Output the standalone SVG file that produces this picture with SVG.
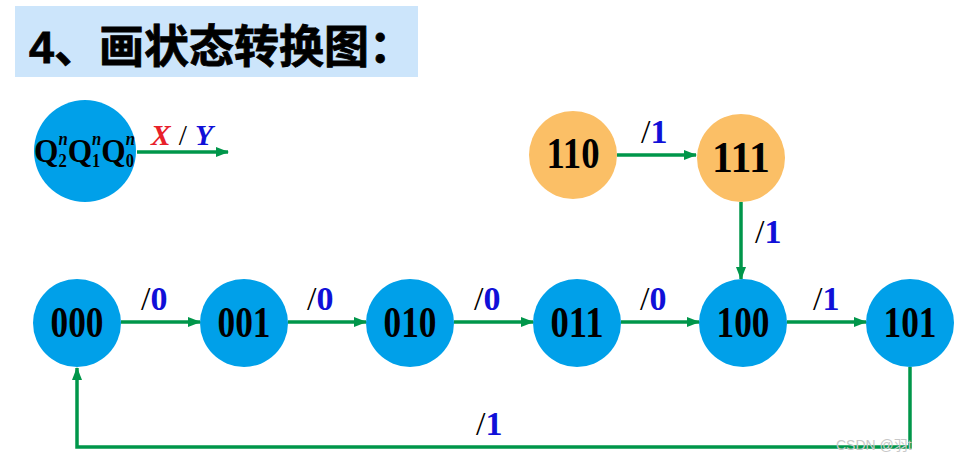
<svg xmlns="http://www.w3.org/2000/svg" width="960" height="462" viewBox="0 0 960 462">
<defs>
<marker id="ah" viewBox="0 0 13 10" refX="12" refY="5" markerWidth="13" markerHeight="10" markerUnits="userSpaceOnUse" orient="auto"><path d="M0,0 L13,5 L0,10 Z" fill="#00964a"/></marker>
</defs>
<style>
.blue{fill:#00a0e9}
.orange{fill:#fbbf66}
.nt{font-family:"Liberation Serif",serif;font-weight:bold;font-size:44px;fill:#000;text-anchor:middle}
.lb{font-family:"Liberation Serif",serif;font-size:34px;fill:#000}
.lb .v{fill:#1010d8;font-weight:bold}
.cn path,.cn line,.cn polyline{stroke:#00964a;stroke-width:3.5;fill:none}
</style>
<rect x="15" y="6" width="403" height="71" fill="#cce5fb"/>
<text x="29" y="63" font-family="'Liberation Sans','Noto Sans CJK SC',sans-serif" font-weight="bold" font-size="45" fill="#000" stroke="#000" stroke-width="0.8">4、画状态转换图：</text>

<g id="legend">
<circle cx="85" cy="151" r="51" class="blue"/>
<text x="34" y="162" textLength="101" lengthAdjust="spacingAndGlyphs" font-family="'Liberation Serif',serif" font-weight="bold" font-size="34" fill="#000">Q<tspan font-size="18" dy="5">2</tspan><tspan font-size="18" font-style="italic" dx="-9" dy="-22">n</tspan><tspan dy="17">Q</tspan><tspan font-size="18" dy="5">1</tspan><tspan font-size="18" font-style="italic" dx="-9" dy="-22">n</tspan><tspan dy="17">Q</tspan><tspan font-size="18" dy="5">0</tspan><tspan font-size="18" font-style="italic" dx="-9" dy="-22">n</tspan></text>
<text x="151" y="145" textLength="62" lengthAdjust="spacingAndGlyphs" font-family="'Liberation Serif',serif" font-size="29" font-style="italic" font-weight="bold"><tspan fill="#e8202a">X</tspan><tspan fill="#000" font-weight="normal" font-style="normal" dx="8">/</tspan><tspan fill="#1010d8" dx="8">Y</tspan></text>
</g>

<g id="n110"><circle cx="573" cy="155" r="44" class="orange"/><text x="573" y="168" textLength="53" lengthAdjust="spacingAndGlyphs" class="nt">110</text></g>
<g id="n111"><circle cx="741" cy="158" r="44" class="orange"/><text x="741" y="172" textLength="58" lengthAdjust="spacingAndGlyphs" class="nt">111</text></g>
<g id="n000"><circle cx="77" cy="323" r="44" class="blue"/><text x="77" y="337" textLength="53" lengthAdjust="spacingAndGlyphs" class="nt">000</text></g>
<g id="n001"><circle cx="244" cy="323" r="44" class="blue"/><text x="244" y="337" textLength="53" lengthAdjust="spacingAndGlyphs" class="nt">001</text></g>
<g id="n010"><circle cx="410" cy="323" r="44" class="blue"/><text x="410" y="337" textLength="53" lengthAdjust="spacingAndGlyphs" class="nt">010</text></g>
<g id="n011"><circle cx="577" cy="323" r="44" class="blue"/><text x="577" y="337" textLength="53" lengthAdjust="spacingAndGlyphs" class="nt">011</text></g>
<g id="n100"><circle cx="743" cy="323" r="44" class="blue"/><text x="743" y="337" textLength="53" lengthAdjust="spacingAndGlyphs" class="nt">100</text></g>
<g id="n101"><circle cx="910" cy="323" r="44" class="blue"/><text x="910" y="337" textLength="53" lengthAdjust="spacingAndGlyphs" class="nt">101</text></g>

<g id="connectors" class="cn">
<line x1="137" y1="152" x2="228" y2="152" marker-end="url(#ah)"/>
<line x1="617" y1="155" x2="696" y2="155" marker-end="url(#ah)"/>
<line x1="741" y1="202" x2="741" y2="279" marker-end="url(#ah)"/>
<line x1="121" y1="322" x2="200" y2="322" marker-end="url(#ah)"/>
<line x1="288" y1="322" x2="366" y2="322" marker-end="url(#ah)"/>
<line x1="454" y1="322" x2="533" y2="322" marker-end="url(#ah)"/>
<line x1="621" y1="322" x2="699" y2="322" marker-end="url(#ah)"/>
<line x1="787" y1="322" x2="866" y2="322" marker-end="url(#ah)"/>
<polyline points="910,367 910,447 77,447 77,368" marker-end="url(#ah)"/>
</g>

<g id="labels">
<text x="641" y="143" class="lb">/<tspan class="v">1</tspan></text>
<text x="755" y="243" class="lb">/<tspan class="v">1</tspan></text>
<text x="141" y="310" class="lb">/<tspan class="v">0</tspan></text>
<text x="307" y="310" class="lb">/<tspan class="v">0</tspan></text>
<text x="474" y="310" class="lb">/<tspan class="v">0</tspan></text>
<text x="640" y="310" class="lb">/<tspan class="v">0</tspan></text>
<text x="813" y="310" class="lb">/<tspan class="v">1</tspan></text>
<text x="476" y="435" class="lb" font-size="36">/<tspan class="v">1</tspan></text>
</g>
<text x="836" y="450" font-family="'Liberation Sans','Noto Sans CJK SC',sans-serif" font-size="14" fill="#c8c8c8">CSDN @羽t</text>
</svg>
